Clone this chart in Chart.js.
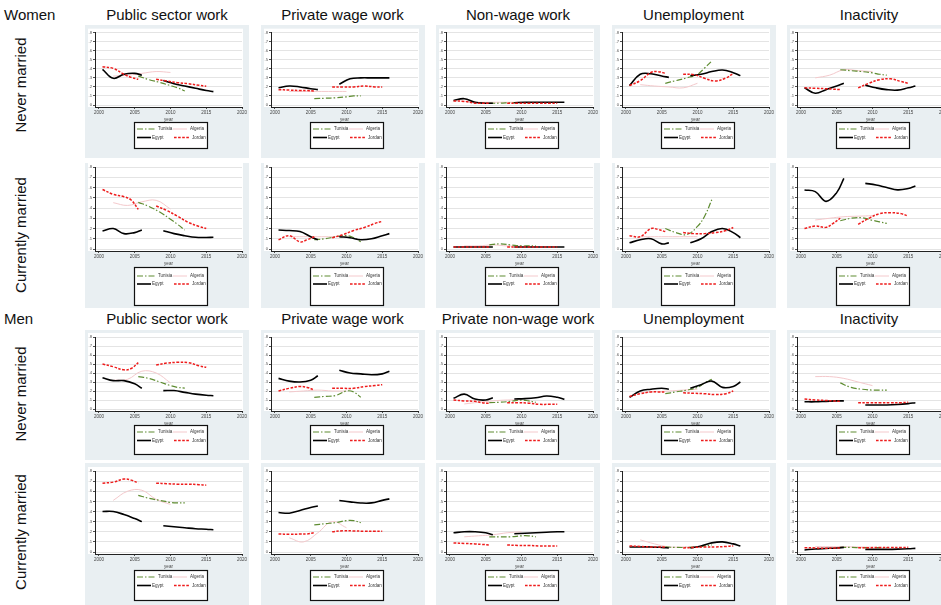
<!DOCTYPE html>
<html>
<head>
<meta charset="utf-8">
<script src="https://cdn.jsdelivr.net/npm/chart.js@4.4.1/dist/chart.umd.min.js"></script>
<style>
  body { margin:0; width:941px; height:605px; overflow:hidden; position:relative; background:#fff;
         font-family:"Liberation Sans", Arial, sans-serif; color:#111; }
  canvas.panel { position:absolute; background:#e9eff2; }
  .lbl { position:absolute; font-size:15px; line-height:1; white-space:nowrap; }
  .ctr { transform:translateX(-50%); }
  .rot { transform:translate(-50%,-50%) rotate(-90deg); }
</style>
</head>
<body>
<script>
// ---- categories ----
const countries = ['Tunisia', 'Algeria', 'Egypt', 'Jordan'];
const womenTitles = ['Public sector work', 'Private wage work', 'Non-wage work', 'Unemployment', 'Inactivity'];
const menTitles = ['Public sector work', 'Private wage work', 'Private non-wage work', 'Unemployment', 'Inactivity'];
const statusLabels = ['Never married', 'Currently married'];
const yTicks = [0, .1, .2, .3, .4, .5, .6, .7, .8];
const xTicks = [2000, 2005, 2010, 2015, 2020];

// ---- survey years per country (null value = break between survey rounds) ----
const egyptYears   = [2000.5, 2002, 2003.5, 2005, 2006, 2007.5, 2009, 2010.5, 2012, 2013.5, 2015, 2016];
const jordanYears  = [2000.5, 2002, 2003.5, 2004.5, 2005.5, 2006.8, 2008, 2009.5, 2011, 2012.5, 2014, 2015];
const tunisiaYears = [2005.5, 2007, 2008.5, 2010, 2011, 2012];
const algeriaYears = [2002, 2004, 2006, 2008, 2010];

// ---- shares, one list per outcome (public, private wage, non-wage, unemployment, inactivity) ----
// Women, never married
const egyptWN = [
  [.395,.295,.34,.35,.33,null,.27,.235,.21,.185,.16,.148],
  [.19,.21,.2,.18,.17,null,.23,.29,.3,.3,.3,.3],
  [.05,.07,.03,.02,.02,null,.025,.03,.03,.03,.03,.03],
  [.214,.34,.345,.32,.306,null,.325,.34,.37,.387,.358,.325],
  [.19,.13,.17,.21,.24,null,.22,.19,.17,.165,.19,.21]
];
const jordanWN = [
  [.424,.405,.34,.306,.284,null,.284,.265,.247,.235,.218,.207],
  [.17,.165,.16,.16,.155,null,.2,.2,.2,.21,.2,.2],
  [.045,.04,.02,.02,.02,null,.02,.02,.02,.02,.02,.02],
  [.214,.27,.36,.369,.35,null,.34,.335,.295,.266,.3,.35],
  [.19,.185,.18,.175,.17,null,.19,.24,.28,.29,.26,.24]
];
const tunisiaWN = [
  [.32,.28,.25,.215,.19,.155],
  [.07,.075,.08,.09,.1,.1],
  [.02,.02,.025,.025,.025,.025],
  [.24,.27,.3,.34,.41,.487],
  [.39,.38,.37,.355,.34,.33]
];
const algeriaWN = [
  [.32,.33,.35,.37,.36],
  [.15,.15,.15,.15,.15],
  [.04,.03,.03,.03,.03],
  [.225,.21,.2,.19,.24],
  [.3,.33,.39,.38,.37]
];
// Women, currently married
const egyptWM = [
  [.176,.2,.15,.16,.185,null,.179,.15,.13,.114,.112,.114],
  [.185,.18,.17,.12,.09,null,.12,.11,.09,.1,.13,.15],
  [.02,.02,.02,.02,.02,null,.02,.02,.02,.02,.02,.02],
  [.06,.09,.1,.05,.06,null,.06,.1,.17,.2,.16,.11],
  [.576,.56,.465,.55,.69,null,.64,.625,.6,.577,.59,.615]
];
const jordanWM = [
  [.58,.533,.51,.478,.387,null,.42,.375,.32,.26,.22,.2],
  [.09,.13,.07,.09,.12,null,.11,.14,.18,.21,.25,.27],
  [.02,.02,.02,.02,.02,null,.02,.02,.02,.02,.02,.02],
  [.13,.12,.2,.19,.17,null,.16,.15,.15,.16,.18,.21],
  [.2,.224,.211,.25,.3,null,.24,.3,.345,.354,.345,.32]
];
const tunisiaWM = [
  [.455,.415,.36,.29,.24,.185],
  [.09,.1,.12,.13,.11,.07],
  [.04,.05,.04,.03,.03,.03],
  [.2,.16,.14,.22,.32,.48],
  [.276,.3,.305,.28,.265,.25]
];
const algeriaWM = [
  [.452,.425,.46,.475,.39],
  [.12,.12,.12,.12,.12],
  [.03,.03,.04,.03,.03],
  [.12,.12,.12,.12,.12],
  [.283,.3,.315,.32,.325]
];
// Men, never married
const egyptMN = [
  [.348,.315,.315,.28,.23,null,.204,.205,.185,.165,.152,.148],
  [.34,.31,.3,.32,.37,null,.43,.4,.39,.38,.39,.42],
  [.119,.165,.11,.1,.126,null,.111,.115,.125,.144,.13,.107],
  [.13,.2,.22,.23,.22,null,.23,.27,.31,.24,.25,.3],
  [.08,.08,.085,.09,.09,null,.045,.045,.045,.05,.06,.07]
];
const jordanMN = [
  [.5,.47,.435,.45,.515,null,.489,.51,.519,.515,.48,.463],
  [.2,.23,.25,.24,.21,null,.23,.23,.23,.25,.26,.27],
  [.1,.09,.085,.07,.063,null,.07,.07,.065,.052,.052,.052],
  [.14,.17,.19,.19,.19,null,.18,.175,.17,.16,.17,.2],
  [.11,.1,.095,.09,.085,null,.07,.07,.07,.07,.07,.075]
];
const tunisiaMN = [
  [.36,.34,.3,.26,.24,.233],
  [.13,.14,.15,.2,.19,.13],
  [.07,.075,.085,.1,.09,.074],
  [.17,.19,.21,.24,.29,.33],
  [.29,.24,.22,.21,.21,.21]
];
const algeriaMN = [
  [.32,.33,.42,.4,.29],
  [.19,.2,.21,.2,.2],
  [.056,.075,.09,.1,.1],
  [.18,.19,.2,.21,.22],
  [.36,.36,.34,.3,.26]
];
// Men, currently married
const egyptMM = [
  [.4,.4,.37,.33,.3,null,.26,.25,.24,.23,.225,.22],
  [.39,.383,.41,.44,.455,null,.508,.495,.484,.485,.51,.525],
  [.19,.2,.2,.19,.17,null,.18,.185,.19,.195,.2,.2],
  [.05,.05,.05,.045,.04,null,.04,.06,.09,.1,.08,.06],
  [.02,.03,.035,.04,.046,null,.026,.026,.026,.028,.032,.036]
];
const jordanMM = [
  [.68,.69,.72,.71,.68,null,.68,.675,.67,.67,.665,.66],
  [.178,.175,.177,.178,.191,null,.2,.21,.208,.205,.205,.205],
  [.09,.085,.08,.075,.07,null,.07,.065,.065,.06,.06,.06],
  [.06,.055,.05,.05,.05,null,.04,.045,.05,.05,.055,.06],
  [.043,.04,.036,.04,.04,null,.043,.043,.044,.045,.045,.046]
];
const tunisiaMM = [
  [.56,.53,.51,.49,.485,.485],
  [.267,.28,.29,.31,.31,.29],
  [.15,.15,.15,.16,.16,.15],
  [.05,.045,.045,.05,.06,.07],
  [.046,.045,.043,.043,.043,.043]
];
const algeriaMM = [
  [.51,.6,.61,.52,.47],
  [.14,.1,.19,.3,.24],
  [.15,.16,.17,.19,.2],
  [.12,.08,.05,.05,.05],
  [.053,.053,.052,.05,.048]
];

// ---- layout (page pixels) ----
const rowGroups = [
  { tunisia: tunisiaWN, algeria: algeriaWN, egypt: egyptWN, jordan: jordanWN },
  { tunisia: tunisiaWM, algeria: algeriaWM, egypt: egyptWM, jordan: jordanWM },
  { tunisia: tunisiaMN, algeria: algeriaMN, egypt: egyptMN, jordan: jordanMN },
  { tunisia: tunisiaMM, algeria: algeriaMM, egypt: egyptMM, jordan: jordanMM }
];
const rowTop    = [25, 163, 330, 463];
const rowHeight = [133, 145, 130, 142];
const rowTopTick = [32.7, 167, 337, 471];   // page y of the .8 gridline
const rowZero    = [105, 249, 409, 552];    // page y of the 0 gridline
const rowLegend  = [[97, 27], [104, 39], [95, 30], [107, 31]]; // legend box top / height inside panel
const colLeft = [85, 260.5, 436, 611.5, 787];
const panelWidth = 164;
const xScaleHeight = 15;

const styles = {
  Tunisia: { color: '#5e8c31', width: 1.2, dash: [6, 2, 1.5, 2], order: 2 },
  Algeria: { color: '#f4c9cc', width: 1.0, dash: [],            order: 3 },
  Egypt:   { color: '#000000', width: 1.6, dash: [],            order: 1 },
  Jordan:  { color: '#ee1c1c', width: 1.5, dash: [2.6, 1.5],    order: 0 }
};

function pts(years, vals) { return years.map((x, i) => ({ x, y: vals[i] })); }

// white plot region behind the axes
const plotRegion = {
  id: 'plotRegion',
  beforeDraw(chart) {
    const { ctx, chartArea: a } = chart;
    ctx.save();
    ctx.fillStyle = '#ffffff';
    ctx.fillRect(3, a.top - 4, a.right + 1 - 3, a.bottom - (a.top - 4));
    ctx.restore();
  }
};

// boxed two-column key under each panel
const boxedKey = {
  id: 'boxedKey',
  afterDraw(chart, args, opts) {
    const { ctx } = chart;
    const top = opts.top, h = opts.height, left = 49, w = 74;
    ctx.save();
    ctx.fillStyle = '#ffffff';
    ctx.fillRect(left, top, w, h);
    ctx.strokeStyle = '#111';
    ctx.lineWidth = 1.2;
    ctx.strokeRect(left + 0.5, top + 0.5, w - 1, h - 1);
    const r1 = top + (h > 34 ? 9 : 7), r2 = top + (h > 34 ? 17 : 15.5);
    const items = [
      ['Tunisia', 3, 22, 24, r1], ['Algeria', 39, 53, 56, r1],
      ['Egypt', 3, 17, 18, r2], ['Jordan', 40, 56, 58, r2]
    ];
    ctx.font = '4.5px "Liberation Sans", Arial, sans-serif';
    ctx.textBaseline = 'middle';
    items.forEach(([name, x0, x1, tx, y]) => {
      const ds = chart.data.datasets.find(d => d.label === name);
      ctx.strokeStyle = ds.borderColor;
      ctx.lineWidth = ds.borderWidth;
      ctx.setLineDash(ds.borderDash || []);
      ctx.beginPath();
      ctx.moveTo(left + x0, y); ctx.lineTo(left + x1, y);
      ctx.stroke();
      ctx.setLineDash([]);
      ctx.fillStyle = '#333';
      ctx.fillText(name, left + tx, y);
    });
    ctx.restore();
  }
};

function makePanel(r, c) {
  const cv = document.createElement('canvas');
  cv.className = 'panel';
  cv.width = panelWidth; cv.height = rowHeight[r];
  cv.style.left = colLeft[c] + 'px';
  cv.style.top = rowTop[r] + 'px';
  cv.style.width = panelWidth + 'px';
  cv.style.height = rowHeight[r] + 'px';
  document.body.appendChild(cv);

  const g = rowGroups[r];
  const pxPerUnit = (rowZero[r] - rowTopTick[r]) / 0.8;
  const yMin = -2 / pxPerUnit;
  const padTop = rowTopTick[r] - rowTop[r];
  const bottom = rowZero[r] + 2 - rowTop[r];
  const padBottom = rowHeight[r] - bottom - xScaleHeight;

  const series = {
    Tunisia: pts(tunisiaYears, g.tunisia[c]),
    Algeria: pts(algeriaYears, g.algeria[c]),
    Egypt:   pts(egyptYears, g.egypt[c]),
    Jordan:  pts(jordanYears, g.jordan[c])
  };

  new Chart(cv, {
    type: 'line',
    data: {
      datasets: countries.map(name => ({
        label: name,
        data: series[name],
        borderColor: styles[name].color,
        borderWidth: styles[name].width,
        borderDash: styles[name].dash,
        order: styles[name].order,
        pointRadius: 0,
        tension: 0.4,
        spanGaps: false,
        fill: false
      }))
    },
    options: {
      responsive: false,
      animation: false,
      devicePixelRatio: 1,
      layout: { padding: { left: 0, right: 7, top: padTop, bottom: padBottom } },
      plugins: {
        legend: { display: false },
        tooltip: { enabled: false },
        boxedKey: { top: rowLegend[r][0], height: rowLegend[r][1] }
      },
      scales: {
        x: {
          type: 'linear', min: 1999.45, max: 2020,
          afterBuildTicks: s => { s.ticks = xTicks.map(v => ({ value: v })); },
          afterFit: s => { s.height = xScaleHeight; },
          ticks: { autoSkip: false, maxRotation: 0, padding: 1, color: '#444',
                   font: { size: 4.5, family: '"Liberation Sans", Arial, sans-serif' },
                   callback: v => String(v) },
          grid: { drawOnChartArea: false, tickLength: 2, tickColor: '#222', tickWidth: 0.8 },
          border: { color: '#222', width: 1 },
          title: { display: true, text: 'year', padding: 0, color: '#444',
                   font: { size: 4.5, family: '"Liberation Sans", Arial, sans-serif' } }
        },
        y: {
          min: yMin, max: 0.8,
          afterBuildTicks: s => { s.ticks = yTicks.map(v => ({ value: v })); },
          afterFit: s => { s.width = 10; },
          ticks: { autoSkip: false, padding: 1, color: '#555',
                   font: { size: 4.2, family: '"Liberation Sans", Arial, sans-serif' },
                   callback: v => v === 0 ? '0' : '.' + Math.round(v * 10) },
          grid: { color: '#e4e4e4', lineWidth: 1, tickLength: 2, tickColor: '#222', tickWidth: 0.8 },
          border: { color: '#222', width: 1 }
        }
      }
    },
    plugins: [plotRegion, boxedKey]
  });
}

function addLabel(text, x, y, cls) {
  const d = document.createElement('div');
  d.className = 'lbl ' + cls;
  d.textContent = text;
  d.style.left = x + 'px';
  d.style.top = y + 'px';
  document.body.appendChild(d);
}

addLabel('Women', 4, 7, '');
addLabel('Men', 4, 311, '');
womenTitles.forEach((t, c) => addLabel(t, colLeft[c] + 82, 7, 'ctr'));
menTitles.forEach((t, c) => addLabel(t, colLeft[c] + 82, 311, 'ctr'));
const rowMid = [85, 235, 394, 532];
rowMid.forEach((y, r) => addLabel(statusLabels[r % 2], 20, y, 'rot'));

for (let r = 0; r < 4; r++) for (let c = 0; c < 5; c++) makePanel(r, c);
</script>
</body>
</html>
